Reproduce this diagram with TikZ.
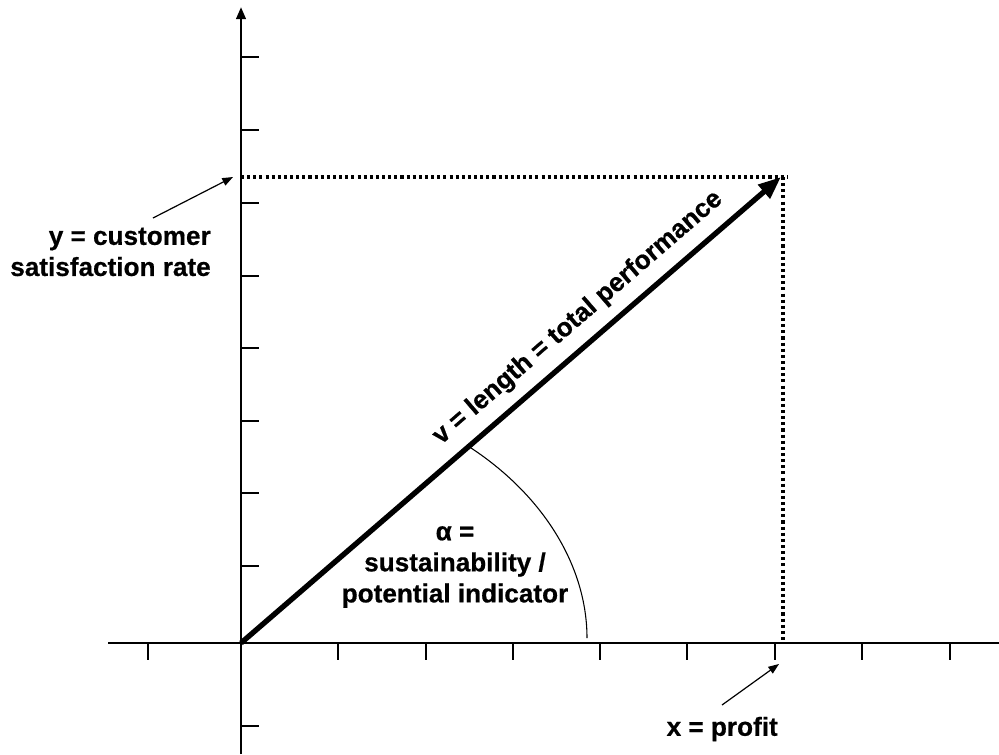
\documentclass[tikz,border=0pt]{standalone}
\usepackage{fontspec}
\setmainfont{Liberation Sans}[BoldFeatures={FakeBold=0.6}]
\usetikzlibrary{arrows.meta}
\begin{document}
\begin{tikzpicture}[x=0.75pt,y=-0.75pt,
 axis/.style={line width=2pt},
 tickmark/.style={line width=0.9pt},
 vec/.style={line width=4pt,-{Triangle[length=17pt,width=13pt]}},
 guide/.style={line width=2.5pt,dash pattern=on 2.3pt off 2.3pt},
 pointer/.style={line width=0.9pt,-{Triangle[length=8pt,width=6pt]}},
 lbl/.style={font=\fontsize{19.6}{23.3}\selectfont\bfseries,inner sep=0pt}]
\useasboundingbox (0,0) rectangle (999,754);
% axes
\coordinate (O) at (241,643);
\coordinate (xl) at (108,643);
\coordinate (xr) at (999,643);
\coordinate (yb) at (241,754);
\coordinate (yt) at (241,7);
\draw[axis] (xl) -- (xr);
\draw[axis,-{Triangle[length=9pt,width=7pt]}] (yb) -- (yt);
% ticks
\foreach \tx in {148,338,426,513,600,687,775,862,950}
  \draw[tickmark] (\tx,643) -- (\tx,660);
\foreach \ty in {57,130,203,276,348,421,493,566,726}
  \draw[tickmark] (241,\ty) -- (259,\ty);
% guides
\coordinate (gy) at (241,177);
\coordinate (gc) at (788,177);
\coordinate (gt) at (783,177);
\coordinate (gx) at (783,643);
\draw[guide] (gy) -- (gc);
\draw[guide] (gt) -- (gx);
% vector
\coordinate (T) at (781,177);
\draw[vec] (O) -- (T);
% angle arc
\coordinate (a1) at (468,446);
\coordinate (a2) at (587,638);
\draw[line width=0.8pt] (a1) .. controls (544,495) and (587,567) .. (a2);
% labels
\node[lbl,rotate=40.8] (vl) at (578,318) {v = length = total performance};
\node[lbl,align=center] (al) at (455,567) {α =\\sustainability /\\potential indicator};
\node[lbl,align=right,anchor=east] (yl) at (211,252) {y = customer\\satisfaction rate};
\node[lbl,anchor=east] (xlab) at (778,729) {x = profit};
% pointers
\coordinate (ys) at (153,218);
\coordinate (yp) at (233,177);
\coordinate (xs) at (722,705);
\coordinate (xp) at (779,664);
\draw[pointer] (ys) -- (yp);
\draw[pointer] (xs) -- (xp);
\end{tikzpicture}
\end{document}
